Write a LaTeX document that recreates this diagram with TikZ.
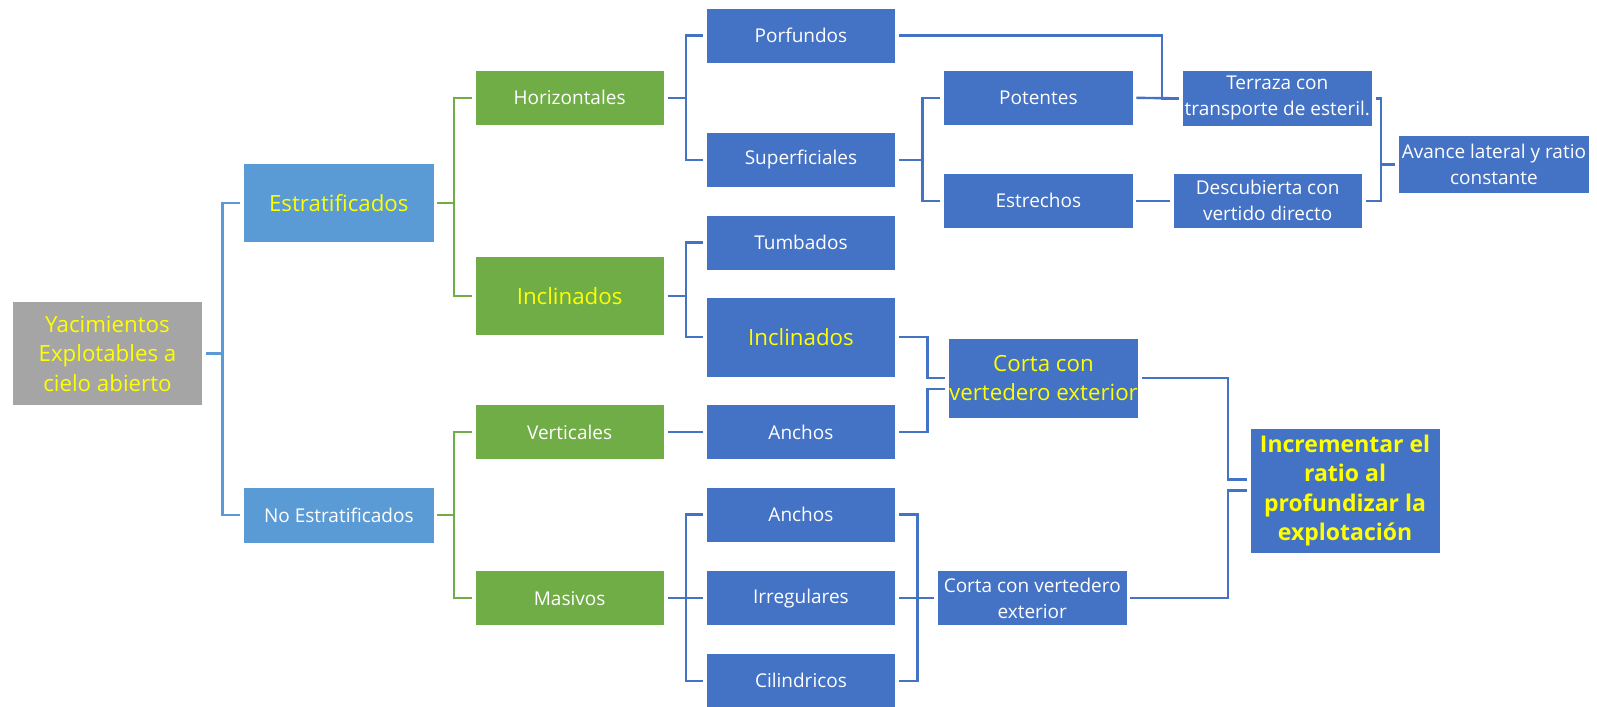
\documentclass[tikz,border=0pt]{standalone}
\usepackage{fontspec}
\setmainfont{Open Sans}
\definecolor{cgray}{HTML}{A5A5A5}
\definecolor{clb}{HTML}{5B9BD5}
\definecolor{cgr}{HTML}{70AD47}
\definecolor{cbl}{HTML}{4472C4}
\definecolor{cyel}{HTML}{FFFF00}
\tikzset{
  box/.style={rectangle, inner sep=0pt, align=center, draw=white, line width=0.6pt},
  sz/.style 2 args={minimum width={1.019*#1pt}, minimum height={1.019*#2pt}},
  wtxt/.style={text=white, font=\fontsize{19}{26}\selectfont},
  ytxt/.style={text=cyel, font=\fontsize{22.3}{29.5}\selectfont},
  btxt/.style={text=cyel, font=\fontsize{23}{29.5}\selectfont\bfseries},
  lk/.style={line width=2.4pt, shorten <=3pt, shorten >=3pt},
}
\begin{document}
\begin{tikzpicture}[x=1.019pt,y=-1.019pt]
\useasboundingbox (0,0) rectangle (1567.2,693.8);
% level 0
\node[box, ytxt, fill=cgray, sz={187}{102}] (root) at (105.5,347) {Yacimientos\\Explotables a\\cielo abierto};
% level 1
\node[box, ytxt, fill=clb, sz={187}{78}] (estr) at (332.5,199) {Estratificados};
\node[box, wtxt, fill=clb, sz={187}{55}] (noest) at (332.5,505.5) {No Estratificados};
% level 2
\node[box, wtxt, fill=cgr, sz={186}{54}] (horiz) at (559,96) {Horizontales};
\node[box, ytxt, fill=cgr, sz={186}{77}] (inclg) at (559,290.5) {Inclinados};
\node[box, wtxt, fill=cgr, sz={186}{54}] (vert) at (559,424) {Verticales};
\node[box, wtxt, fill=cgr, sz={186}{54}] (masiv) at (559,587) {Masivos};
% level 3
\node[box, wtxt, fill=cbl, sz={186}{54}] (porf) at (786,35) {Porfundos};
\node[box, wtxt, fill=cbl, sz={186}{54}] (superf) at (786,157) {Superficiales};
\node[box, wtxt, fill=cbl, sz={186}{54}] (tumb) at (786,238) {Tumbados};
\node[box, ytxt, fill=cbl, sz={186}{78}] (inclb) at (786,331) {Inclinados};
\node[box, wtxt, fill=cbl, sz={186}{54}] (anch1) at (786,424) {Anchos};
\node[box, wtxt, fill=cbl, sz={186}{54}] (anch2) at (786,505) {Anchos};
\node[box, wtxt, fill=cbl, sz={186}{54}] (irreg) at (786,587) {Irregulares};
\node[box, wtxt, fill=cbl, sz={186}{54}] (cilin) at (786,668) {Cilindricos};
% level 4
\node[box, wtxt, fill=cbl, sz={186}{54}] (poten) at (1019,96) {Potentes};
\node[box, wtxt, fill=cbl, sz={186}{54}] (estre) at (1019,197) {Estrechos};
% results
\node[box, wtxt, fill=cbl, sz={187}{55}] (terr) at (1253.5,96.5) {Terraza con\\transporte de esteril.};
\node[box, wtxt, fill=cbl, sz={186}{54}] (desc) at (1244,197) {Descubierta con\\vertido directo};
\node[box, wtxt, fill=cbl, sz={188}{57}] (avan) at (1466,161.5) {Avance lateral y ratio\\constante};
\node[box, ytxt, fill=cbl, sz={186}{78}] (cortay) at (1024,371) {Corta con\\vertedero exterior};
\node[box, wtxt, fill=cbl, sz={186}{54}] (cortaw) at (1013,587) {Corta con vertedero\\exterior};
\node[box, btxt, fill=cbl, sz={186}{123}] (incr) at (1320,481.5) {Incrementar el\\ratio al\\profundizar la\\explotación};
% connectors
\draw[lk, clb] (root.east) -- ++(19,0) |- (estr.west);
\draw[lk, clb] (root.east) -- ++(19,0) |- (noest.west);
\draw[lk, cgr] (estr.east) -- ++(19,0) |- (horiz.west);
\draw[lk, cgr] (estr.east) -- ++(19,0) |- (inclg.west);
\draw[lk, cgr] (noest.east) -- ++(19,0) |- (vert.west);
\draw[lk, cgr] (noest.east) -- ++(19,0) |- (masiv.west);
\draw[lk, cbl] (horiz.east) -- ++(21,0) |- (porf.west);
\draw[lk, cbl] (horiz.east) -- ++(21,0) |- (superf.west);
\draw[lk, cbl] (inclg.east) -- ++(21,0) |- (tumb.west);
\draw[lk, cbl] (inclg.east) -- ++(21,0) |- (inclb.west);
\draw[lk, cbl] (vert.east) -- (anch1.west);
\draw[lk, cbl] (masiv.east) -- ++(21,0) |- (anch2.west);
\draw[lk, cbl] (masiv.east) -- (irreg.west);
\draw[lk, cbl] (masiv.east) -- ++(21,0) |- (cilin.west);
\draw[lk, cbl] (superf.east) -- ++(26,0) |- (poten.west);
\draw[lk, cbl] (superf.east) -- ++(26,0) |- (estre.west);
\draw[lk, cbl] (porf.east) -| ([xshift=-20pt]terr.west) -- (terr.west);
\draw[lk, cbl] (poten.east) -- (terr.west);
\draw[lk, cbl] (estre.east) -- (desc.west);
\draw[lk, cbl] (terr.east) -- ++(8,0) |- (avan.west);
\draw[lk, cbl] (desc.east) -- ++(18,0) |- (avan.west);
\draw[lk, cbl] (inclb.east) -- ++(31,0) |- (cortay.west);
\draw[lk, cbl] (anch1.east) -- ++(31,0) |- ([yshift=-11pt]cortay.west);
\draw[lk, cbl] (anch2.east) -- ++(21,0) |- (cortaw.west);
\draw[lk, cbl] (irreg.east) -- (cortaw.west);
\draw[lk, cbl] (cilin.east) -- ++(21,0) |- (cortaw.west);
\draw[lk, cbl] (cortay.east) -- ++(88,0) |- ([yshift=11pt]incr.west);
\draw[lk, cbl] (cortaw.east) -- ++(99,0) |- (incr.west);
\end{tikzpicture}
\end{document}
